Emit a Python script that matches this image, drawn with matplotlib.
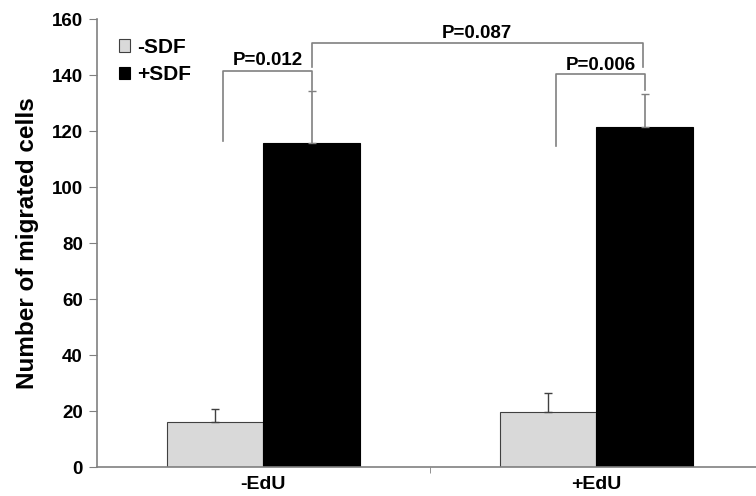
import matplotlib
matplotlib.use('Agg')
import matplotlib.pyplot as plt
import numpy as np

groups = ['-EdU', '+EdU']
series = ['-SDF', '+SDF']
minus_sdf = [16.0, 19.6]
minus_sdf_err = [4.7, 6.8]
plus_sdf = [115.7, 121.4]
plus_sdf_err = [18.6, 11.8]
p_labels = ['P=0.012', 'P=0.006', 'P=0.087']

plt.rcParams['font.family'] = ['Liberation Sans', 'DejaVu Sans']
plt.rcParams['font.weight'] = 'bold'

fig = plt.figure(figsize=(7.56, 4.96), dpi=100)
ax = fig.add_axes([0.128, 0.058, 0.881, 0.903])

x = np.arange(len(groups))
w = 0.29
grey = '#808080'
ax.bar(x - w / 2, minus_sdf, w, color='#d9d9d9', edgecolor='#404040', linewidth=0.8, label=series[0])
ax.bar(x + w / 2, plus_sdf, w, color='black', edgecolor='black', linewidth=0.8, label=series[1])
ax.errorbar(x - w / 2, minus_sdf, yerr=[np.zeros(2), minus_sdf_err], fmt='none',
            ecolor='#404040', elinewidth=1, capsize=3, capthick=1)
ax.errorbar(x + w / 2, plus_sdf, yerr=[np.zeros(2), plus_sdf_err], fmt='none',
            ecolor=grey, elinewidth=1.2, capsize=3, capthick=1)

# significance brackets
off = 0.025
def bracket(x1, x2, y1, y2, top, text, ty):
    ax.plot([x1, x1, x2, x2], [y1, top, top, y2], color=grey, lw=1.2, clip_on=False)
    ax.text((x1 + x2) / 2, ty, text, ha='center', va='baseline', fontsize=13.5, fontweight='bold')

xl0, xr0 = x[0] - w / 2 + off, x[0] + w / 2
xl1, xr1 = x[1] - w / 2 + off, x[1] + w / 2
bracket(xl0, xr0, 116.4, plus_sdf[0] + plus_sdf_err[0] + 0.5, 141.4, p_labels[0], 143.6)
bracket(xl1, xr1, 114.6, plus_sdf[1] + plus_sdf_err[1] + 1.5, 140.4, p_labels[1], 141.9)
bracket(xr0, xr1 - 0.005, 142.9, 142.9, 151.4, p_labels[2], 153.2)

ax.set_ylim(0, 160)
ax.set_xlim(-0.5, 1.5)
ax.set_yticks(range(0, 161, 20))
ax.set_xticks(x)
ax.set_xticklabels(groups, fontsize=14, fontweight='bold')
ax.set_xticks([0.5], minor=True)
ax.tick_params(axis='x', which='major', length=0, pad=6)
ax.tick_params(axis='x', which='minor', length=4, color=grey)
ax.tick_params(axis='y', length=6, color=grey, labelsize=13.5, pad=4)
ax.set_ylabel('Number of migrated cells', fontsize=17.5, fontweight='bold', labelpad=9)

for s in ['top', 'right']:
    ax.spines[s].set_visible(False)
for s in ['left', 'bottom']:
    ax.spines[s].set_color(grey)
    ax.spines[s].set_linewidth(1.2)

leg = ax.legend(loc='upper left', bbox_to_anchor=(0.005, 1.0), frameon=False,
                fontsize=15, handlelength=0.55, handleheight=0.55, handletextpad=0.35,
                labelspacing=0.4)

fig.savefig('out.png', dpi=100)
